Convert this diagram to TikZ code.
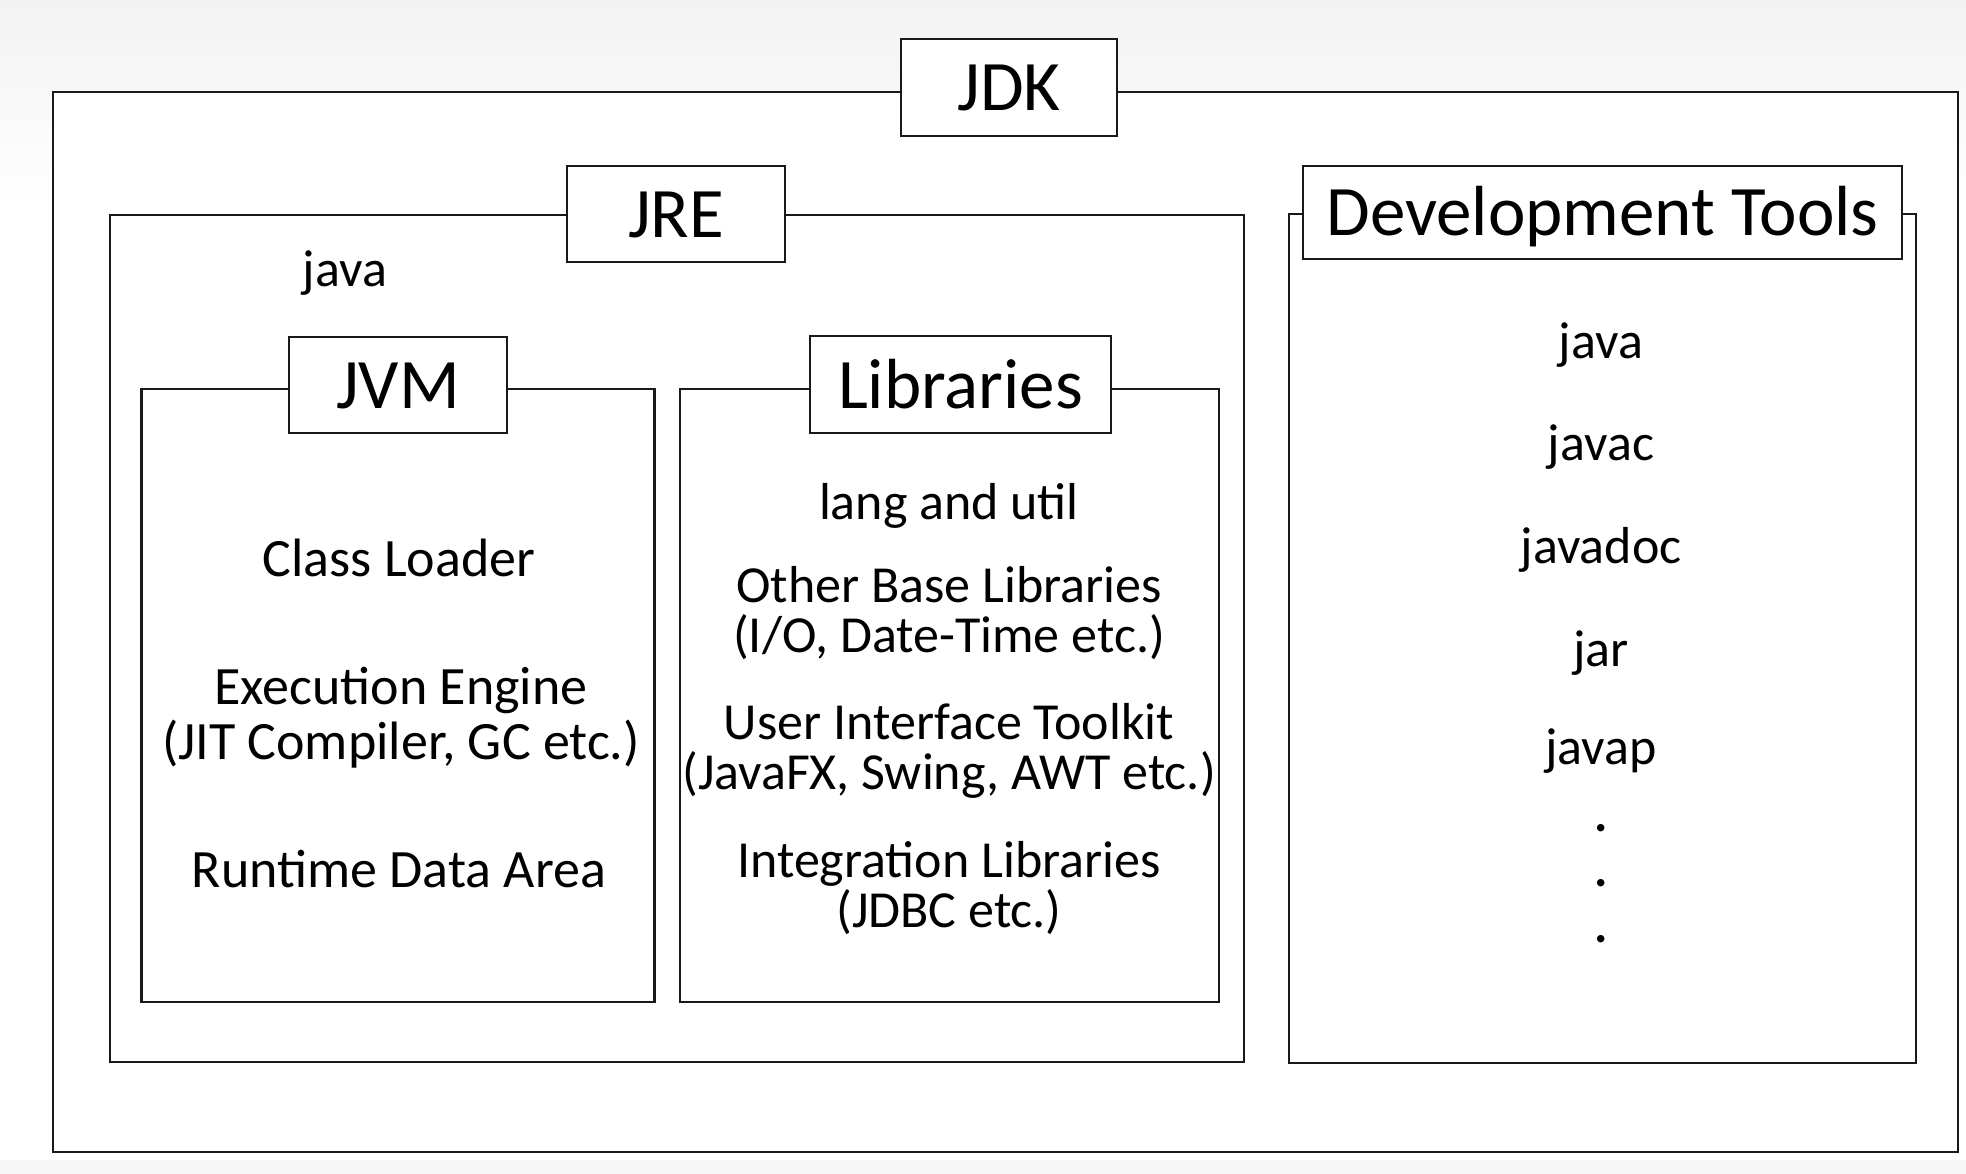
\documentclass[tikz,border=0pt]{standalone}
\usepackage{fontspec}
\setmainfont{Carlito}
\begin{document}
\begin{tikzpicture}[x=1pt,y=-1pt,
  cbox/.style={draw=black!90, line width=2.6pt, fill=white, inner sep=0pt},
  lbox/.style={draw=black!90, line width=2.6pt, fill=white, inner sep=0pt,
    font={\fontsize{71}{71}\selectfont}, text height=47pt, text depth=0pt},
  txt/.style={anchor=base, inner sep=0pt, font={\fontsize{52}{50}\selectfont}},
  jtxt/.style={anchor=base, inner sep=0pt, font={\fontsize{54}{55}\selectfont}},
  dotmark/.style={anchor=base, inner sep=0pt, align=center, font={\bfseries\fontsize{50}{55.5}\selectfont}}]
\useasboundingbox (0,0) rectangle (1966,1174);
\fill[white] (0,0) rectangle (1966,1174);
\foreach \i in {0,...,19}{
  \pgfmathsetmacro{\g}{5*(1-\i/20)}
  \fill[black!\g] (0,\i*10) rectangle (1966,\i*10+10.5);
}
\fill[black!3] (0,1160) rectangle (1966,1174);
% containers
\node[cbox, minimum width=1905pt, minimum height=1060pt] (jdk) at (1005.5,622) {};
\node[cbox, minimum width=1134pt, minimum height=847pt] (jre) at (677,638.5) {};
\node[cbox, minimum width=627pt, minimum height=849pt] (dev) at (1602.5,638.5) {};
\node[cbox, minimum width=513pt, minimum height=613pt] (jvm) at (398,695.5) {};
\node[cbox, minimum width=539pt, minimum height=613pt] (lib) at (949.5,695.5) {};
% labels
\node[lbox, minimum width=216pt, minimum height=97pt] (jdklabel) at (1009,87.5) {JDK};
\node[lbox, minimum width=218pt, minimum height=96pt] (jrelabel) at (676,214) {JRE};
\node[lbox, minimum width=218pt, minimum height=96pt] (jvmlabel) at (398,385) {JVM};
\node[lbox, minimum width=301pt, minimum height=97pt] (liblabel) at (960.5,384.5) {Libraries};
\node[lbox, minimum width=599pt, minimum height=93pt] (devlabel) at (1602.5,212.5) {Development Tools};
% JRE text
\node[txt] (jrejava) at (345,287) {java};
% JVM texts (base anchor = baseline of last line)
\node[jtxt] (cl) at (399,576) {Class Loader};
\node[jtxt, align=center] (ee) at (401,759) {Execution Engine\\(JIT Compiler, GC etc.)};
\node[jtxt] (rda) at (399,887) {Runtime Data Area};
% Libraries texts
\node[txt] (lang) at (949,519) {lang and util};
\node[txt, align=center] (obl) at (949,652) {Other Base Libraries\\(I/O, Date-Time etc.)};
\node[txt, align=center] (uit) at (949,789) {User Interface Toolkit\\(JavaFX, Swing, AWT etc.)};
\node[txt, align=center] (il) at (949,927) {Integration Libraries\\(JDBC etc.)};
% Dev tools texts
\node[txt] (tjava) at (1601,359) {java};
\node[txt] (tjavac) at (1601,460) {javac};
\node[txt] (tjavadoc) at (1601,563) {javadoc};
\node[txt] (tjar) at (1601,666) {jar};
\node[txt] (tjavap) at (1601,764) {javap};
\node[dotmark] (dots) at (1601,942) {.\\.\\.};
\end{tikzpicture}
\end{document}
